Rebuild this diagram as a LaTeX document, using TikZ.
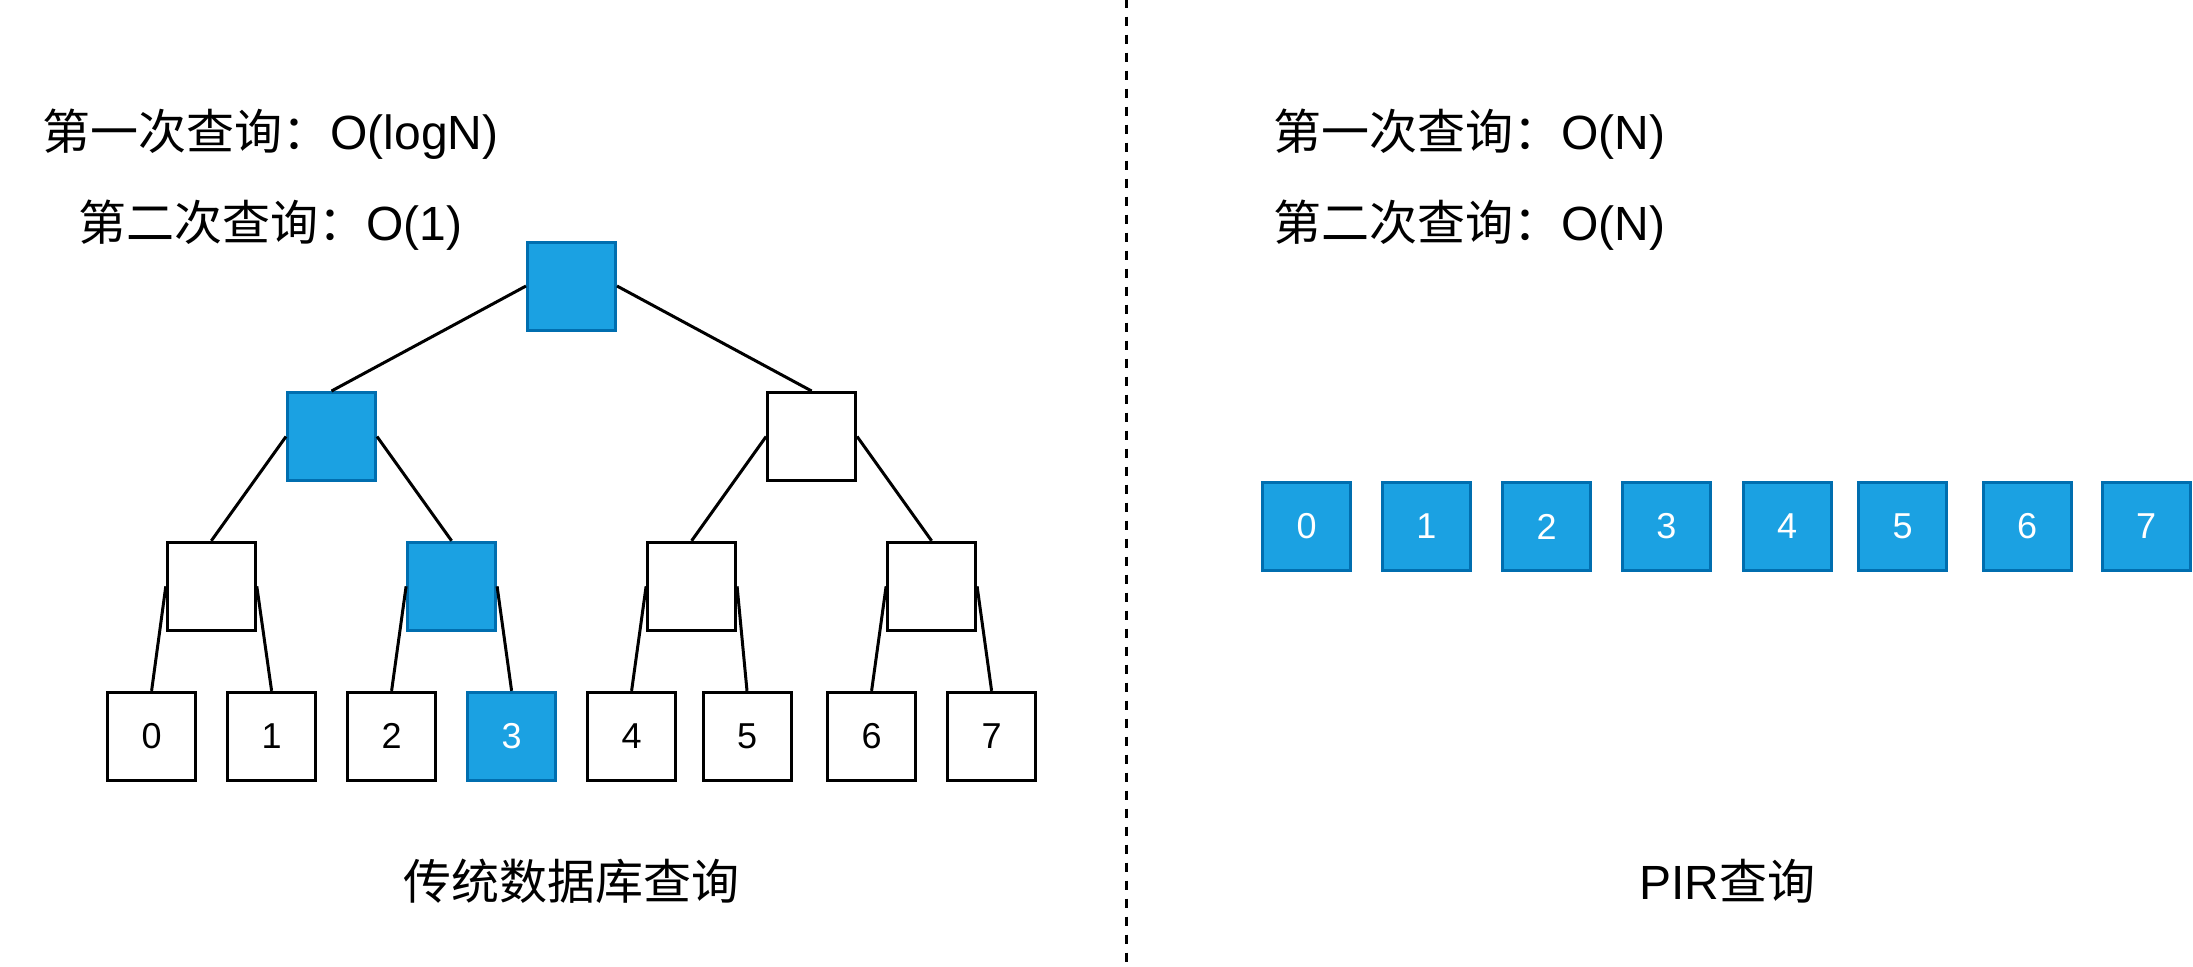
\documentclass[tikz,border=0pt]{standalone}
\usepackage{fontspec}
\setmainfont{Liberation Sans}
\newfontfamily\cjk{Noto Sans CJK SC}
\definecolor{fillblue}{HTML}{1BA1E2}
\definecolor{strokeblue}{HTML}{006EAF}
\begin{document}
\begin{tikzpicture}[x=0.5pt,y=-0.5pt,
 wbox/.style={draw=black,line width=1.5pt,minimum size=44pt,inner sep=0pt,fill=white,font=\fontsize{18}{20}\selectfont},
 bbox/.style={wbox,draw=strokeblue,fill=fillblue,text=white},
 link/.style={draw=black,line width=1.5pt},
 txt/.style={inner sep=0pt,font=\fontsize{24}{28}\selectfont},
]
\useasboundingbox (0,0) rectangle (2193,966);
% texts
\node[txt,anchor=base west] (t1) at (42,149) {{\cjk 第一次查询：}O(logN)};
\node[txt,anchor=base west] (t2) at (78,240) {{\cjk 第二次查询：}O(1)};
\node[txt,anchor=base west] (t3) at (1273,149) {{\cjk 第一次查询：}O(N)};
\node[txt,anchor=base west] (t4) at (1273,240) {{\cjk 第二次查询：}O(N)};
\node[txt,anchor=base] (cap1) at (571,899) {\cjk 传统数据库查询};
\node[txt,anchor=base] (cap2) at (1727,899) {PIR{\cjk 查询}};
% divider
\coordinate (dtop) at (1126,0);
\coordinate (dbot) at (1126,966);
\draw[line width=1.5pt,dash pattern=on 4.5pt off 4.5pt,dash phase=0.7pt] (dtop) -- (dbot);
% tree
\node[bbox] (r) at (571.5,286) {};
\node[bbox] (a) at (331.5,436.5) {};
\node[wbox] (b) at (811.6,436.5) {};
\node[wbox] (c0) at (211.3,586.3) {};
\node[bbox] (c1) at (451.6,586.3) {};
\node[wbox] (c2) at (691.6,586.3) {};
\node[wbox] (c3) at (931.6,586.3) {};
\node[wbox] (l0) at (151.6,736.3) {0};
\node[wbox] (l1) at (271.6,736.3) {1};
\node[wbox] (l2) at (391.6,736.3) {2};
\node[bbox] (l3) at (511.6,736.3) {3};
\node[wbox] (l4) at (631.6,736.3) {4};
\node[wbox] (l5) at (747,736.3) {5};
\node[wbox] (l6) at (871.6,736.3) {6};
\node[wbox] (l7) at (991.6,736.3) {7};
\draw[link] (r.west) -- (a.north);
\draw[link] (r.east) -- (b.north);
\draw[link] (a.west) -- (c0.north);
\draw[link] (a.east) -- (c1.north);
\draw[link] (b.west) -- (c2.north);
\draw[link] (b.east) -- (c3.north);
\draw[link] (c0.west) -- (l0.north);
\draw[link] (c0.east) -- (l1.north);
\draw[link] (c1.west) -- (l2.north);
\draw[link] (c1.east) -- (l3.north);
\draw[link] (c2.west) -- (l4.north);
\draw[link] (c2.east) -- (l5.north);
\draw[link] (c3.west) -- (l6.north);
\draw[link] (c3.east) -- (l7.north);
% PIR array
\node[bbox] (p0) at (1306.5,526.5) {0};
\node[bbox] (p1) at (1426.4,526.5) {1};
\node[bbox] (p2) at (1546.6,526.5) {2};
\node[bbox] (p3) at (1666.3,526.5) {3};
\node[bbox] (p4) at (1787,526.5) {4};
\node[bbox] (p5) at (1902.5,526.5) {5};
\node[bbox] (p6) at (2027,526.5) {6};
\node[bbox] (p7) at (2146,526.5) {7};
\end{tikzpicture}
\end{document}
